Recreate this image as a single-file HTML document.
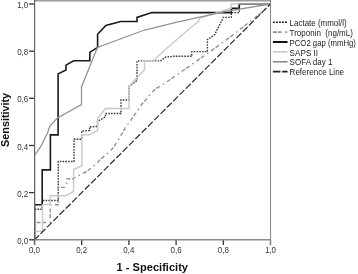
<!DOCTYPE html>
<html><head><meta charset="utf-8"><style>
html,body{margin:0;padding:0;background:#fff;}
body{width:358px;height:274px;overflow:hidden;}
svg{display:block;}
.tk{font-family:"Liberation Sans",sans-serif;font-size:8.4px;fill:#333;}
.lg{font-family:"Liberation Sans",sans-serif;font-size:8.4px;fill:#222;}
.ax{font-family:"Liberation Sans",sans-serif;font-size:10.7px;font-weight:bold;fill:#111;}
</style></head><body>
<svg width="358" height="274" viewBox="0 0 358 274">
<path d="M29 4.0 H34.5" stroke="#333" stroke-width="1.3"/>
<text x="28.3" y="8.0" text-anchor="end" class="tk" textLength="11.1" lengthAdjust="spacingAndGlyphs">1,0</text>
<path d="M29 51.2 H34.5" stroke="#333" stroke-width="1.3"/>
<text x="28.3" y="55.2" text-anchor="end" class="tk" textLength="11.1" lengthAdjust="spacingAndGlyphs">0,8</text>
<path d="M29 98.3 H34.5" stroke="#333" stroke-width="1.3"/>
<text x="28.3" y="102.3" text-anchor="end" class="tk" textLength="11.1" lengthAdjust="spacingAndGlyphs">0,6</text>
<path d="M29 145.5 H34.5" stroke="#333" stroke-width="1.3"/>
<text x="28.3" y="149.5" text-anchor="end" class="tk" textLength="11.1" lengthAdjust="spacingAndGlyphs">0,4</text>
<path d="M29 192.6 H34.5" stroke="#333" stroke-width="1.3"/>
<text x="28.3" y="196.6" text-anchor="end" class="tk" textLength="11.1" lengthAdjust="spacingAndGlyphs">0,2</text>
<path d="M29 239.8 H34.5" stroke="#333" stroke-width="1.3"/>
<text x="28.3" y="243.8" text-anchor="end" class="tk" textLength="11.1" lengthAdjust="spacingAndGlyphs">0,0</text>
<path d="M34.5 240 V245" stroke="#333" stroke-width="1.3"/>
<text x="34.5" y="253.0" text-anchor="middle" class="tk" textLength="11.1" lengthAdjust="spacingAndGlyphs">0,0</text>
<path d="M81.7 240 V245" stroke="#333" stroke-width="1.3"/>
<text x="81.7" y="253.0" text-anchor="middle" class="tk" textLength="11.1" lengthAdjust="spacingAndGlyphs">0,2</text>
<path d="M128.9 240 V245" stroke="#333" stroke-width="1.3"/>
<text x="128.9" y="253.0" text-anchor="middle" class="tk" textLength="11.1" lengthAdjust="spacingAndGlyphs">0,4</text>
<path d="M176.1 240 V245" stroke="#333" stroke-width="1.3"/>
<text x="176.1" y="253.0" text-anchor="middle" class="tk" textLength="11.1" lengthAdjust="spacingAndGlyphs">0,6</text>
<path d="M223.3 240 V245" stroke="#333" stroke-width="1.3"/>
<text x="223.3" y="253.0" text-anchor="middle" class="tk" textLength="11.1" lengthAdjust="spacingAndGlyphs">0,8</text>
<path d="M270.5 240 V245" stroke="#333" stroke-width="1.3"/>
<text x="270.5" y="253.0" text-anchor="middle" class="tk" textLength="11.1" lengthAdjust="spacingAndGlyphs">1,0</text>
<defs><clipPath id="c"><rect x="34.5" y="0" width="236" height="239.8"/></clipPath></defs>
<g clip-path="url(#c)">
<polyline points="34.5,239.8 34.5,209.2 42.2,209.2 42.2,200.5 58.3,200.5 58.3,161.5 74,161.5 74,139.2 81.8,139.2 81.8,131 89.6,130.5 89.6,126.8 97.5,126.5 97.5,121.4 105.4,117 105.4,113.5 121,113.5 121,100 129,100 129,86.3 137,80.5 137,60.9 160.5,60.9 166,57 174,56.3 191.8,56.3 191.8,51.6 207.4,51.6 207.4,39.6 214.6,34.8 223.3,17.4 231.3,17.4 231.3,12.6 239.3,12.6 239.3,8.4 239.3,3.9 270.5,3.9" fill="none" stroke="#3a3a3a" stroke-width="1.4" stroke-dasharray="1.6 1.2"/>
<polyline points="34.5,239.8 34.5,222.5 50.2,222.5 50.2,204.8 58.3,204.8 58.3,187.4 64.3,187.4 66.6,184.8 66.6,178.9 73.5,178.7 76.3,176.7 82,174 88,170.5 92,167.5 96,164 101,159 105,155.5 110,151.5 114,146.5 117,142 120,137 126,126.6 130,121.5 136,113 142,104 147.5,98 150,94.3 156,88.6 160,86.3 164,83.7 175,76.2 208.6,52.7 233,34.9 260,13.8 270.5,4" fill="none" stroke="#909090" stroke-width="1.4" stroke-dasharray="4 1.5 4 3.5 1.5 3.5" stroke-dashoffset="-1.4"/>
<polyline points="34.5,239.8 34.5,204.8 42.2,204.8 42.2,169.9 50.4,169.9 50.4,134.9 58.1,134.9 58.1,73.9 66,70 66,65.1 73.7,60.8 89.8,60.8 89.8,52.4 97.6,47.3 97.6,34.3 105.8,25.5 120.7,21.5 137,21.5 137,17.4 151.9,12.6 231.3,12.6 231.3,8.4 239.3,8.4 239.3,3.9 270.5,3.9" fill="none" stroke="#1a1a1a" stroke-width="1.6"/>
<polyline points="34.5,239.8 34.5,231.4 42.5,231.4 42.5,204.6 50.2,204.6 50.2,195.8 65.7,195.8 73.6,191.3 73.6,169.5 81.9,165.7 81.9,134.7 89.3,134.9 97.6,130.5 97.6,118.2 105.5,108.5 129,108.5 129,86.3 144.5,69.8 144.5,60.9 153,60.9 167,48 192,26.5 198.5,21.5 200,18 231.2,8.2 231.2,3.9 270.5,3.9" fill="none" stroke="#c8c8c8" stroke-width="1.4"/>
<polyline points="34.5,239.8 34.5,155.5 41,146.2 47.5,133 49.8,126.1 57.4,118 81.5,104.5 81.5,87 97.4,47.4 144.6,30 176,22.3 226,11.4 270.5,4" fill="none" stroke="#939393" stroke-width="1.3"/>
<path d="M34.5 239.8 L270.5 4" fill="none" stroke="#333" stroke-width="1.25" stroke-dasharray="6.8 2.13" stroke-dashoffset="0.36"/>
</g>
<path d="M34.5 0.7 H270.5" stroke="#9a9a9a" stroke-width="1.5" fill="none"/>
<path d="M270.5 0 V244.5" stroke="#8a8a8a" stroke-width="1.1" fill="none"/>
<path d="M34.5 239.8 H270.5" stroke="#8a8a8a" stroke-width="1.4" fill="none"/>
<path d="M34.6 0 V245" stroke="#666" stroke-width="1.2" fill="none"/>
<path d="M272.9 22.2 H287.6" fill="none" stroke="#222" stroke-width="1.6" stroke-dasharray="2 1"/>
<text x="289.6" y="25.8" class="lg" textLength="57.1" lengthAdjust="spacingAndGlyphs">Lactate (mmol/l)</text>
<path d="M272.9 32.1 H287.6" fill="none" stroke="#909090" stroke-width="1.6" stroke-dasharray="4 1.1 3.6 3.7 1.8 3"/>
<text x="289.6" y="35.7" class="lg" textLength="63.3" lengthAdjust="spacingAndGlyphs">Troponin&#160; (ng/mL)</text>
<path d="M272.9 42.0 H287.6" fill="none" stroke="#111" stroke-width="2"/>
<text x="289.6" y="45.6" class="lg" textLength="66.3" lengthAdjust="spacingAndGlyphs">PCO2 gap (mmHg)</text>
<path d="M272.9 51.9 H287.6" fill="none" stroke="#c8c8c8" stroke-width="1.6"/>
<text x="289.6" y="55.5" class="lg" textLength="28.5" lengthAdjust="spacingAndGlyphs">SAPS II</text>
<path d="M272.9 61.8 H287.6" fill="none" stroke="#8c8c8c" stroke-width="1.6"/>
<text x="289.6" y="65.4" class="lg" textLength="42.9" lengthAdjust="spacingAndGlyphs">SOFA day 1</text>
<path d="M272.9 71.7 H287.6" fill="none" stroke="#222" stroke-width="1.7" stroke-dasharray="7.6 1.7"/>
<text x="289.6" y="75.3" class="lg" textLength="54.5" lengthAdjust="spacingAndGlyphs">Reference Line</text>
<text x="152.3" y="270.9" text-anchor="middle" class="ax" textLength="71.4" lengthAdjust="spacingAndGlyphs">1 - Specificity</text>
<text transform="translate(9.3,119.9) rotate(-90)" text-anchor="middle" class="ax" textLength="54" lengthAdjust="spacingAndGlyphs">Sensitivity</text>
</svg>
</body></html>
